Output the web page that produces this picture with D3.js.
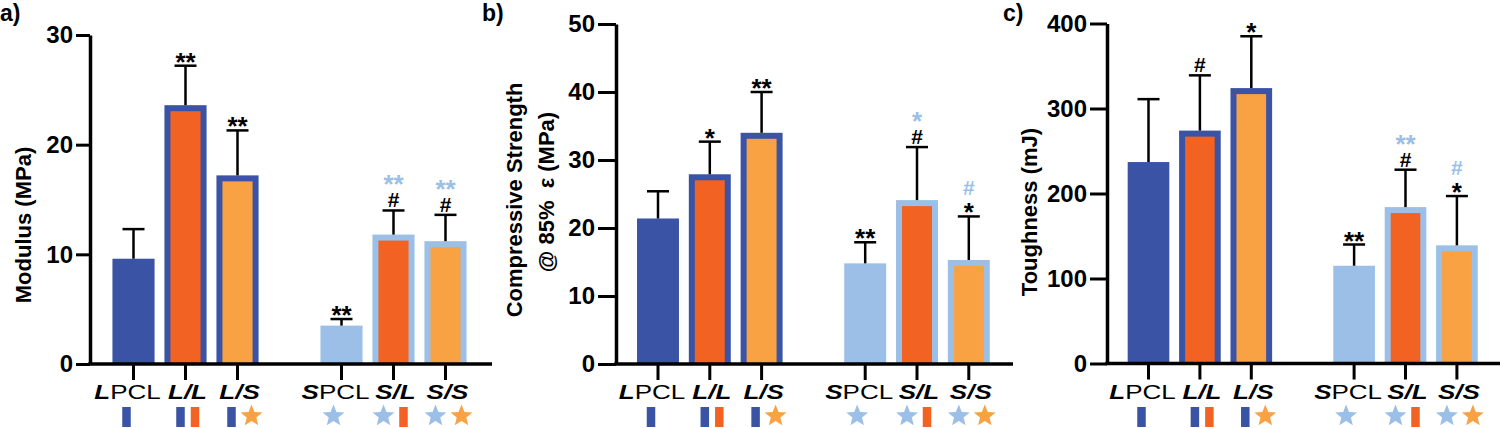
<!DOCTYPE html>
<html>
<head>
<meta charset="utf-8">
<script src="https://cdn.jsdelivr.net/npm/d3@7"></script>
<style>
  html, body { margin: 0; padding: 0; background: #fff; }
  svg { display: block; }
  text { font-family: "Liberation Sans", Arial, Helvetica, sans-serif; }
</style>
</head>
<body>
<svg id="chart" width="1500" height="428"></svg>
<script>
// ---------------- DATA ----------------
const categories = ["LPCL", "L/L", "L/S", "SPCL", "S/L", "S/S"];

// panel a: Modulus (MPa)
const modulusMean = [9.6, 23.6, 17.2, 3.5, 11.8, 11.2];
const modulusSD   = [2.7, 3.6, 4.1, 0.6, 2.2, 2.4];
const modulusTicks = [0, 10, 20, 30];
const modulusAnn = [[], [["**","k"]], [["**","k"]], [["**","k"]], [["#","k"],["**","b"]], [["#","k"],["**","b"]]];

// panel b: Compressive Strength @ 85% strain (MPa)
const strengthMean = [21.4, 27.9, 34.0, 14.8, 24.1, 15.3];
const strengthSD   = [4.0, 4.8, 6.0, 3.1, 7.8, 6.4];
const strengthTicks = [0, 10, 20, 30, 40, 50];
const strengthAnn = [[], [["*","k"]], [["**","k"]], [["**","k"]], [["#","k"],["*","b"]], [["*","k"],["#","b"]]];

// panel c: Toughness (mJ)
const toughMean = [237, 274, 324, 115, 184, 139];
const toughSD   = [74, 65, 61, 25, 44, 58];
const toughTicks = [0, 100, 200, 300, 400];
const toughAnn = [[], [["#","k"]], [["*","k"]], [["**","k"]], [["#","k"],["**","b"]], [["*","k"],["#","b"]]];

// ---------------- STYLE ----------------
const C = { dblue: "#3A53A4", red: "#F16223", orange: "#F8A244", lblue: "#9BBFE6", k: "#000" };
const fills   = [C.dblue, C.red, C.orange, C.lblue, C.red, C.orange];
const borders = [null, C.dblue, C.dblue, null, C.lblue, C.lblue];
// icons beneath labels: [type, color, dx]
const icons = [
  [["rect", C.dblue, -7]],
  [["rect", C.dblue, -5], ["rect", C.red, 9.5]],
  [["rect", C.dblue, -6], ["star", C.orange, 14]],
  [["star", C.lblue, -8]],
  [["star", C.lblue, -10], ["rect", C.red, 10]],
  [["star", C.lblue, -10], ["star", C.orange, 16]]
];

const panels = [
  { letter: "a)", lx: 0, axisX: 90, axisEnd: 492, first: 133.5, step: 52, y0: 364, yTop: 35,
    max: 30, ticks: modulusTicks, tickLen: 14, means: modulusMean, sds: modulusSD, ann: modulusAnn,
    labels: [["Modulus (MPa)", 31, 225]] },
  { letter: "b)", lx: 482, axisX: 616, axisEnd: 1013, first: 658, step: 51.8, y0: 364, yTop: 24,
    max: 50, ticks: strengthTicks, tickLen: 18, means: strengthMean, sds: strengthSD, ann: strengthAnn,
    labels: [["Compressive Strength", 522, 200], ["@ 85%\u00A0\u00A0\u03B5 (MPa)", 554, 192]] },
  { letter: "c)", lx: 1003, axisX: 1107, axisEnd: 1500, first: 1148.5, step: 51.4, y0: 363.5, yTop: 23.5,
    max: 400, ticks: toughTicks, tickLen: 17, means: toughMean, sds: toughSD, ann: toughAnn,
    labels: [["Toughness (mJ)", 1037, 212]] }
];

const svg = d3.select("#chart");
svg.append("rect").attr("width", 1500).attr("height", 428).attr("fill", "#fff");

function starPath(cx, cy, R, r) {
  const pts = [];
  for (let i = 0; i < 10; i++) {
    const a = -Math.PI / 2 + i * Math.PI / 5;
    const rad = i % 2 === 0 ? R : r;
    pts.push([cx + rad * Math.cos(a), cy + rad * Math.sin(a)]);
  }
  return "M" + pts.map(p => p[0].toFixed(2) + "," + p[1].toFixed(2)).join("L") + "Z";
}

const slots = ["LPCL", "L/L", "L/S", "gap", "SPCL", "S/L", "S/S"];

panels.forEach(p => {
  const g = svg.append("g");
  const x = d3.scaleBand().domain(slots)
    .range([p.first - p.step / 2, p.first - p.step / 2 + p.step * 7])
    .paddingInner(0.19).paddingOuter(0.095);
  const y = d3.scaleLinear().domain([0, p.max]).range([p.y0, p.yTop]);
  const bw = x.bandwidth();
  const cx = c => x(c) + bw / 2;

  // panel letter
  g.append("text").attr("x", p.lx).attr("y", 21).attr("font-size", 23).attr("font-weight", "bold").text(p.letter);

  // y label
  p.labels.forEach(([t, lx, ly]) => {
    g.append("text").attr("transform", `translate(${lx},${ly}) rotate(-90)`)
      .attr("text-anchor", "middle").attr("font-size", 22).attr("font-weight", "bold").text(t);
  });

  // bars
  categories.forEach((c, i) => {
    const x0 = x(c), top = y(p.means[i]), h = p.y0 - top;
    if (borders[i]) {
      g.append("rect").attr("x", x0).attr("y", top).attr("width", bw).attr("height", h).attr("fill", borders[i]);
      g.append("rect").attr("x", x0 + 6).attr("y", top + 6).attr("width", bw - 12).attr("height", h - 6).attr("fill", fills[i]);
    } else {
      g.append("rect").attr("x", x0).attr("y", top).attr("width", bw).attr("height", h).attr("fill", fills[i]);
    }
  });

  // error bars + significance marks
  categories.forEach((c, i) => {
    const xc = cx(c), top = y(p.means[i]), cap = y(p.means[i] + p.sds[i]);
    g.append("line").attr("x1", xc).attr("x2", xc).attr("y1", top).attr("y2", cap)
      .attr("stroke", "#000").attr("stroke-width", 2.5);
    g.append("line").attr("x1", xc - 11).attr("x2", xc + 11).attr("y1", cap).attr("y2", cap)
      .attr("stroke", "#000").attr("stroke-width", 2.5);
    if (!p.ann[i].length) return;
    const t = g.append("text").attr("text-anchor", "middle").attr("font-weight", "bold");
    let yy = cap - 3;
    p.ann[i].forEach(([s, col]) => {
      const color = col === "b" ? C.lblue : "#000";
      if (s === "#") {
        t.append("tspan").attr("x", xc).attr("y", yy).attr("font-size", 21).attr("fill", color).text(s);
        yy = yy - 15 - 7;
      } else {
        t.append("tspan").attr("x", xc).attr("y", yy + 8).attr("font-size", 26).attr("fill", color).text(s);
        yy = yy - 10 - 8;
      }
    });
  });

  // y axis
  const ya = g.append("g").attr("transform", `translate(${p.axisX},0)`)
    .call(d3.axisLeft(y).tickValues(p.ticks).tickSize(p.tickLen).tickSizeOuter(0).tickPadding(3));
  ya.select(".domain").attr("stroke-width", 3.5);
  ya.selectAll(".tick line").attr("stroke-width", 3);
  ya.selectAll(".tick text").attr("font-size", 24).attr("font-weight", "bold")
    .attr("font-family", "'Liberation Sans', Arial, sans-serif").attr("fill", "#000");

  // x axis line
  g.append("line").attr("x1", p.axisX - 1.75).attr("x2", p.axisEnd).attr("y1", p.y0).attr("y2", p.y0)
    .attr("stroke", "#000").attr("stroke-width", 3.5);
  const xa = g.append("g").attr("transform", `translate(0,${p.y0})`)
    .call(d3.axisBottom(x).tickValues(categories).tickSize(16).tickFormat(""));
  xa.select(".domain").remove();
  xa.selectAll(".tick line").attr("stroke-width", 3);

  // x labels
  categories.forEach((c, i) => {
    const pcl = c.endsWith("PCL");
    const lg = g.append("g").attr("transform", `translate(${cx(c) + (pcl ? -6 : 2)},399) scale(1.3,1)`);
    const t = lg.append("text").attr("text-anchor", "middle").attr("font-size", 20);
    if (pcl) {
      t.append("tspan").attr("font-weight", "bold").attr("font-style", "italic").text(c[0]);
      t.append("tspan").text("PCL");
    } else {
      t.append("tspan").attr("font-weight", "bold").attr("font-style", "italic").text(c);
    }
  });

  // icons
  categories.forEach((c, i) => {
    icons[i].forEach(([type, col, dx]) => {
      const ix = cx(c) + dx;
      if (type === "rect") {
        g.append("rect").attr("x", ix - 4.25).attr("y", 407).attr("width", 8.5).attr("height", 20).attr("fill", col);
      } else {
        g.append("path").attr("d", starPath(ix, 416, 11.5, 5)).attr("fill", col);
      }
    });
  });
});
</script>
</body>
</html>
